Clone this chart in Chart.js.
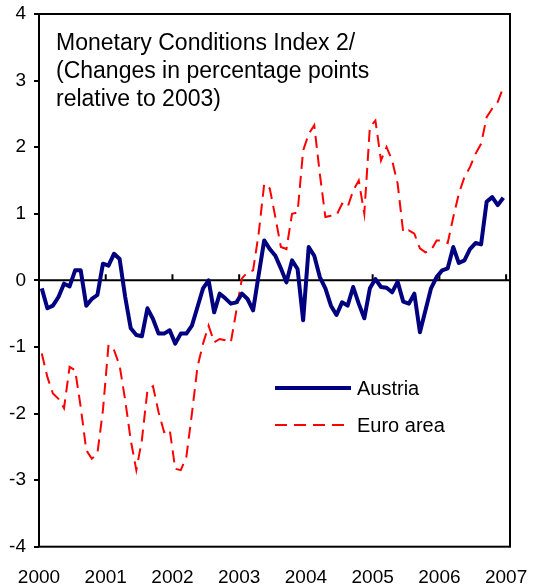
<!DOCTYPE html>
<html>
<head>
<meta charset="utf-8">
<script src="https://cdn.jsdelivr.net/npm/chart.js@4.4.0/dist/chart.umd.min.js"></script>
<style>
  html, body { margin: 0; padding: 0; background: #fff; }
  #wrap { width: 534px; height: 586px; }
</style>
</head>
<body>
<div id="wrap"><canvas id="mciChart"></canvas></div>
<script>
  // year labels on the x axis, one tick every 12 months
  var years = ['2000', '2001', '2002', '2003', '2004', '2005', '2006', '2007'];
  var yTicks = [-4, -3, -2, -1, 0, 1, 2, 3, 4];

  // monthly values, Jan 2000 - Dec 2006
  var austria = [
    -0.12, -0.42, -0.38, -0.25, -0.05, -0.09, 0.15, 0.15, -0.38, -0.28, -0.22, 0.25,
    0.22, 0.4, 0.32, -0.25, -0.72, -0.82, -0.84, -0.42, -0.58, -0.8, -0.8, -0.75,
    -0.95, -0.8, -0.8, -0.68, -0.4, -0.12, 0.0, -0.48, -0.2, -0.27, -0.35, -0.33,
    -0.2, -0.28, -0.45, 0.08, 0.6, 0.47, 0.37, 0.18, -0.03, 0.3, 0.17, -0.6,
    0.5, 0.37, 0.05, -0.12, -0.38, -0.52, -0.33, -0.38, -0.1, -0.35, -0.57, -0.12,
    0.02, -0.1, -0.11, -0.18, -0.02, -0.32, -0.35, -0.2, -0.78, -0.45, -0.12, 0.05,
    0.15, 0.18, 0.5, 0.26, 0.3, 0.47, 0.56, 0.54, 1.18, 1.25, 1.13, 1.24
  ];
  var euroArea = [
    -1.1, -1.45, -1.7, -1.78, -1.92, -1.3, -1.35, -1.9, -2.55, -2.68, -2.6, -1.95,
    -0.97, -1.05, -1.28, -1.8, -2.4, -2.85, -2.4, -1.65, -1.59, -1.98, -2.28, -2.24,
    -2.83, -2.85, -2.65, -2.0, -1.3, -0.95, -0.68, -0.93, -0.88, -0.9, -0.93, -0.45,
    0.03, 0.12, 0.15, 0.7, 1.45, 1.38, 0.95, 0.5, 0.47, 1.0, 1.02, 1.95,
    2.2, 2.33, 1.6, 0.95, 0.97, 0.98, 1.15, 1.1, 1.35, 1.5, 1.0, 2.3,
    2.4, 1.8, 2.0, 1.8, 1.45, 0.72, 0.75, 0.7, 0.48, 0.42, 0.45, 0.6,
    0.6, 0.56, 0.95, 1.3, 1.55, 1.7, 1.9, 2.05, 2.45, 2.58, 2.68, 2.9
  ];

  var titleLines = ['Monetary Conditions Index 2/', '(Changes in percentage points', 'relative to 2003)'];

  // put each month in the middle of its slot
  function monthly(values) {
    return values.map(function (v, i) { return { x: i + 0.5, y: v }; });
  }

  Chart.defaults.font.family = 'Arial, "Liberation Sans", sans-serif';
  Chart.defaults.color = '#000';

  var framePlugin = {
    id: 'frame',
    beforeDatasetsDraw: function (chart) {
      var ctx = chart.ctx, area = chart.chartArea;
      var xs = chart.scales.x, ys = chart.scales.y;
      var y0 = ys.getPixelForValue(0);
      ctx.save();
      ctx.strokeStyle = '#000';
      ctx.lineWidth = 2;
      ctx.beginPath();
      ctx.moveTo(area.left, y0);
      ctx.lineTo(area.right, y0);
      for (var i = 1; i < years.length; i++) {
        var px = xs.getPixelForValue(i * 12);
        ctx.moveTo(px, y0);
        ctx.lineTo(px, y0 - 6);
      }
      ctx.stroke();
      ctx.restore();
    },
    afterDraw: function (chart) {
      var ctx = chart.ctx, area = chart.chartArea;
      ctx.save();
      ctx.strokeStyle = '#000';
      ctx.lineWidth = 2;
      ctx.strokeRect(area.left, area.top, area.right - area.left, area.bottom - area.top);

      // text box in the top left corner
      ctx.fillStyle = '#000';
      ctx.font = '23px Arial, "Liberation Sans", sans-serif';
      ctx.textBaseline = 'alphabetic';
      titleLines.forEach(function (t, i) {
        ctx.fillText(t, 56, 50 + i * 28);
      });

      // legend inside the plot
      ctx.font = '20px Arial, "Liberation Sans", sans-serif';
      ctx.textBaseline = 'middle';
      chart.data.datasets.forEach(function (ds, i) {
        var ly = 388 + i * 37;
        ctx.save();
        ctx.strokeStyle = ds.borderColor;
        ctx.lineWidth = ds.borderWidth;
        ctx.setLineDash(ds.borderDash || []);
        ctx.beginPath();
        ctx.moveTo(275, ly);
        ctx.lineTo(351, ly);
        ctx.stroke();
        ctx.restore();
        ctx.fillText(ds.label, 357, ly + 1);
      });
      ctx.restore();
    }
  };

  var mciChart = new Chart(document.getElementById('mciChart'), {
    type: 'line',
    data: {
      datasets: [{
        label: 'Austria',
        data: monthly(austria),
        borderColor: '#000080',
        borderWidth: 4,
        pointRadius: 0,
        tension: 0,
        borderJoinStyle: 'round'
      }, {
        label: 'Euro area',
        data: monthly(euroArea),
        borderColor: '#ff0000',
        borderWidth: 2,
        borderDash: [12, 7],
        pointRadius: 0,
        tension: 0
      }]
    },
    options: {
      responsive: true,
      maintainAspectRatio: false,
      animation: false,
      devicePixelRatio: 1,
      layout: { padding: { left: 0, top: 14, right: 24, bottom: 0 } },
      plugins: {
        legend: { display: false },
        tooltip: { enabled: false }
      },
      scales: {
        x: {
          type: 'linear',
          min: 0,
          max: 84.7,
          afterBuildTicks: function (s) {
            s.ticks = years.map(function (y, i) { return { value: i * 12 }; });
          },
          afterFit: function (s) {
            s.height = 39.3;
            s.paddingLeft = 0;
            s.paddingRight = 0;
          },
          grid: { display: false, drawTicks: false },
          border: { display: false },
          ticks: {
            autoSkip: false,
            maxRotation: 0,
            padding: 20,
            font: { size: 19 },
            callback: function (v) { return years[Math.round(v / 12)]; }
          }
        },
        y: {
          min: -4,
          max: 4,
          afterBuildTicks: function (s) {
            s.ticks = yTicks.map(function (v) { return { value: v }; });
          },
          afterFit: function (s) {
            s.width = 39;
            s.paddingTop = 0;
            s.paddingBottom = 0;
          },
          grid: { drawOnChartArea: false, drawTicks: true, tickLength: 5, color: '#000', lineWidth: 2 },
          border: { display: false },
          ticks: {
            padding: 8,
            font: { size: 19 }
          }
        }
      }
    },
    plugins: [framePlugin]
  });
</script>
</body>
</html>
